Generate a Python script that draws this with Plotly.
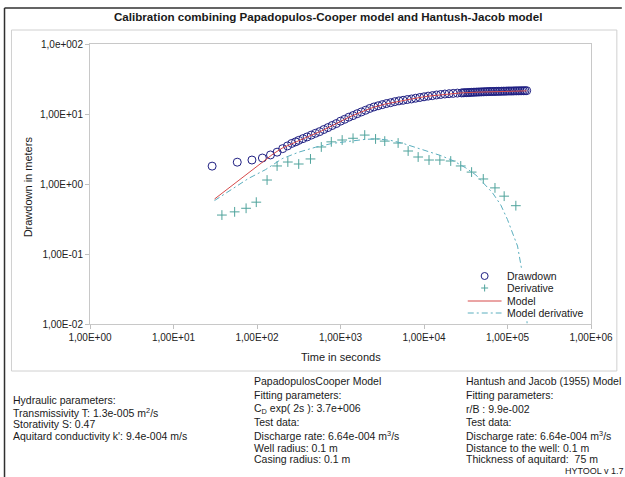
import plotly.graph_objects as go

# ---------------- data ----------------
drawdown_time = [29, 58, 87, 116, 145, 174, 203, 232, 261, 290,
                 316, 355, 398, 447, 501, 562, 631, 708, 794, 891,
                 1000, 1122, 1259, 1413, 1585, 1778, 1995, 2239, 2512, 2818,
                 3162, 3548, 3981, 4467, 5012, 5623, 6310, 7079, 7943, 8913,
                 10000, 11220, 12589, 14125, 15849, 17783, 19953, 22387, 25119, 28184,
                 29512, 30903, 32359, 33884, 35481, 37154, 38905, 40738, 42658, 44668,
                 46774, 48978, 51286, 53703, 56234, 58884, 61660, 64565, 67608, 70795,
                 74131, 77625, 81283, 85114, 89125, 93325, 97724, 102329, 107152, 112202,
                 117490, 123027, 128825, 134896, 141254, 147911, 154882, 162181, 169824]
drawdown_value = [1.8, 2.05, 2.2, 2.35, 2.6, 2.85, 3.2, 3.5, 3.8, 4.0,
                  4.2, 4.45, 4.7, 5.0, 5.3, 5.6, 6.0, 6.4, 6.85, 7.3,
                  7.9, 8.4, 9.0, 9.5, 10.1, 10.7, 11.3, 12.0, 12.6, 13.1,
                  13.6, 14.1, 14.5, 15.0, 15.4, 15.7, 16.1, 16.4, 16.8, 17.2,
                  17.6, 18.0, 18.3, 18.7, 19.0, 19.3, 19.5, 19.7, 19.9, 20.0,
                  20.1, 20.15, 20.2, 20.25, 20.3, 20.4, 20.45, 20.5, 20.55, 20.6,
                  20.65, 20.7, 20.75, 20.8, 20.85, 20.9, 20.95, 20.95, 21.0, 21.0,
                  21.05, 21.1, 21.1, 21.15, 21.2, 21.2, 21.25, 21.3, 21.3, 21.3,
                  21.35, 21.4, 21.4, 21.45, 21.45, 21.5, 21.5, 21.5, 21.55]

derivative_time = [38, 54, 74, 98, 132, 174, 234, 316, 437, 589,
                   776, 1047, 1413, 1950, 2630, 3388, 4898, 6457, 8511, 11482,
                   15488, 20893, 27542, 37154, 51286, 70795, 91201, 125893]
derivative_value = [0.36, 0.40, 0.45, 0.55, 1.14, 1.81, 2.06, 1.93, 2.28, 3.38,
                    4.0, 4.25, 4.5, 5.0, 4.4, 4.1, 3.85, 2.96, 2.43, 2.2,
                    2.2, 2.13, 1.81, 1.48, 1.18, 0.88, 0.67, 0.49]

model_time = [31, 40, 63, 100, 126, 158, 200, 251, 316, 417,
              589, 871, 1259, 1778, 2455, 3388, 4898, 7079, 11220, 17783,
              27542, 43652, 70795, 109648, 169824]
model_value = [0.61, 0.77, 1.17, 1.79, 2.2, 2.72, 3.25, 3.7, 4.15, 4.8,
               5.7, 7.2, 9.0, 10.7, 12.4, 13.8, 15.2, 16.4, 18.0, 19.2,
               20.0, 20.5, 20.9, 21.2, 21.4]

model_deriv_time = [31, 50, 79, 126, 200, 316, 501, 794, 1259, 1995,
                    2818, 3981, 5623, 7943, 11220, 15849, 22387, 31623, 41687, 52481,
                    66069, 83176, 100000, 114815, 131826, 147911, 158489, 165959, 171791]
model_deriv_value = [0.58, 0.85, 1.2, 1.6, 2.3, 2.85, 3.35, 3.8, 4.1, 4.35,
                     4.4, 4.2, 3.8, 3.3, 2.9, 2.55, 2.15, 1.7, 1.35, 1.0,
                     0.75, 0.5, 0.31, 0.2, 0.13, 0.06, 0.045, 0.025, 0.01]

series_names = ["Drawdown", "Derivative", "Model", "Model derivative"]

x_tick_vals = [1, 10, 100, 1000, 10000, 100000, 1000000]
x_tick_text = ["1,00E+00", "1,00E+01", "1,00E+02", "1,00E+03", "1,00E+04", "1,00E+05", "1,00E+06"]
y_tick_vals = [0.01, 0.1, 1, 10, 100]
y_tick_text = ["1,00E-02", "1,00E-01", "1,00E+00", "1,00E+01", "1,0e+002"]

# ---------------- layout helpers ----------------
W, H = 625, 477
PL, PR, PT, PB = 90, 594, 44, 324   # plot area in pixels
FONT = "Arial, Liberation Sans, sans-serif"
NAVY = "#1f1f82"
TEAL = "#4fa39c"
RED = "#d64b4b"
CYAN = "#5aaebe"
DASHDOT = "6px,3px,2px,3px"


def px(x, y):
    return (x - PL) / (PR - PL), (PB - y) / (PB - PT)


fig = go.Figure()
fig.add_trace(go.Scatter(x=drawdown_time, y=drawdown_value, mode="markers", name=series_names[0],
                         marker=dict(symbol="circle-open", size=8, color=NAVY,
                                     line=dict(width=1, color=NAVY))))
fig.add_trace(go.Scatter(x=derivative_time, y=derivative_value, mode="markers", name=series_names[1],
                         marker=dict(symbol="cross-thin-open", size=7, color=TEAL,
                                     line=dict(width=1, color=TEAL))))
fig.add_trace(go.Scatter(x=model_time, y=model_value, mode="lines", name=series_names[2],
                         line=dict(color=RED, width=1)))
fig.add_trace(go.Scatter(x=model_deriv_time, y=model_deriv_value, mode="lines", name=series_names[3],
                         line=dict(color=CYAN, width=1, dash=DASHDOT)))

axis_common = dict(type="log", showgrid=False, zeroline=False, showline=True, mirror=True,
                   linecolor="#c8c8c8", linewidth=1, ticks="outside", ticklen=4,
                   tickcolor="#c0c0c0", tickfont=dict(family=FONT, size=10, color="#222222"))
fig.update_xaxes(range=[0, 6], tickvals=x_tick_vals, ticktext=x_tick_text, **axis_common)
fig.update_yaxes(range=[-2, 2], tickvals=y_tick_vals, ticktext=y_tick_text, **axis_common)

shapes = []


def pline(xa, ya, xb, yb, color, width=1, dash="solid", layer="above"):
    p0 = px(xa, ya)
    p1 = px(xb, yb)
    shapes.append(dict(type="line", xref="paper", yref="paper", x0=p0[0], y0=p0[1],
                       x1=p1[0], y1=p1[1], layer=layer,
                       line=dict(color=color, width=width, dash=dash)))


# outer dark frame (left and top)
pline(4, 8, 625, 8, "#303030", 1.5)
pline(4, 8, 4, 477, "#303030", 1.5)
# inner light panel
a0, b0 = px(11, 30)
a1, b1 = px(620, 371)
shapes.append(dict(type="rect", xref="paper", yref="paper", x0=a0, y0=b1, x1=a1, y1=b0,
                   line=dict(color="#d0d0d0", width=1), layer="below"))

# ---- compact legend (box + symbols) ----
r0 = px(466, 268)
r1 = px(592, 321)
shapes.append(dict(type="rect", xref="paper", yref="paper", x0=r0[0], y0=r1[1], x1=r1[0], y1=r0[1],
                   fillcolor="white", line=dict(width=0), layer="above"))
LEG_Y = [276, 288, 301, 313]
SYM_X = 487
c0 = px(SYM_X - 3.5, LEG_Y[0] - 3.5)
c1 = px(SYM_X + 3.5, LEG_Y[0] + 3.5)
shapes.append(dict(type="circle", xref="paper", yref="paper", x0=c0[0], y0=c1[1], x1=c1[0], y1=c0[1],
                   line=dict(color=NAVY, width=1), layer="above"))
pline(SYM_X - 3.5, LEG_Y[1], SYM_X + 3.5, LEG_Y[1], TEAL)
pline(SYM_X, LEG_Y[1] - 3.5, SYM_X, LEG_Y[1] + 3.5, TEAL)
pline(470, LEG_Y[2], 504, LEG_Y[2], RED)
pline(470, LEG_Y[3], 504, LEG_Y[3], CYAN, dash=DASHDOT)

annotations = []


def txt(x, y, s, size=10.5, bold=False, anchor="left", angle=0):
    xp, yp = px(x, y)
    if bold:
        s = "<b>" + s + "</b>"
    annotations.append(dict(x=xp, y=yp, xref="paper", yref="paper", text=s, showarrow=False,
                            xanchor=anchor, yanchor="middle", textangle=angle,
                            font=dict(family=FONT, size=size, color="#1a1a1a")))


for name, y in zip(series_names, LEG_Y):
    txt(507, y, name, size=10.5)

txt(329, 17, "Calibration combining Papadopulos-Cooper model and Hantush-Jacob model", size=11.6,
    bold=True, anchor="center")
txt(342, 357, "Time in seconds", size=11, anchor="center")
txt(28, 187, "Drawdown in meters", size=11, anchor="center", angle=-90)

left_lines = ["Hydraulic parameters:",
              "Transmissivity T: 1.3e-005 m<sup>2</sup>/s",
              "Storativity S: 0.47",
              "Aquitard conductivity k': 9.4e-004 m/s"]
for i, s in enumerate(left_lines):
    txt(11, 400 + 12 * i, s)

mid_lines = [(381, "PapadopulosCooper Model"),
             (395, "Fitting parameters:"),
             (409, "C<sub>D</sub> exp( 2s ): 3.7e+006"),
             (422, "Test data:"),
             (435, "Discharge rate: 6.64e-004 m<sup>3</sup>/s"),
             (448, "Well radius: 0.1 m"),
             (459, "Casing radius: 0.1 m")]
for y, s in mid_lines:
    txt(253, y, s)

right_lines = [(381, "Hantush and Jacob (1955) Model"),
               (395, "Fitting parameters:"),
               (409, "r/B : 9.9e-002"),
               (422, "Test data:"),
               (435, "Discharge rate: 6.64e-004 m<sup>3</sup>/s"),
               (448, "Distance to the well: 0.1 m"),
               (459, "Thickness of aquitard:  75 m")]
for y, s in right_lines:
    txt(466, y, s)

txt(566, 471, "HYTOOL v 1.7", size=9)

fig.update_layout(
    width=W, height=H,
    margin=dict(l=PL, r=W - PR, t=PT, b=H - PB, pad=0),
    paper_bgcolor="white", plot_bgcolor="white",
    showlegend=False,
    shapes=shapes, annotations=annotations,
    font=dict(family=FONT),
)

fig.write_html("out.html")
